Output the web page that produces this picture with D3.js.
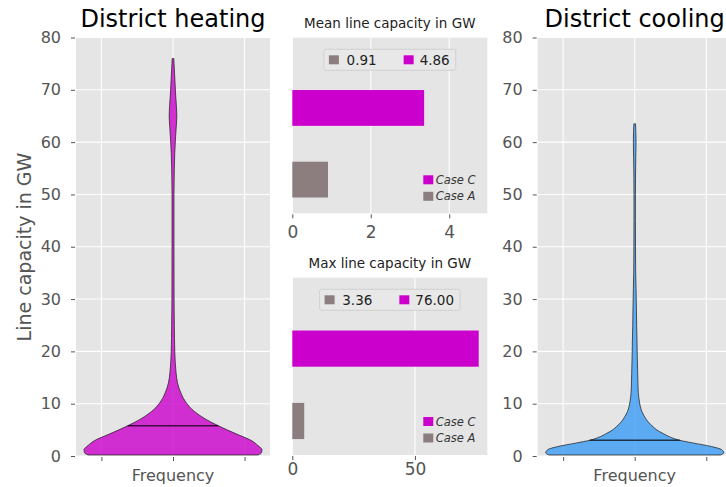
<!DOCTYPE html>
<html>
<head>
<meta charset="utf-8">
<script src="https://cdn.jsdelivr.net/npm/d3@7"></script>
<style>
  html, body { margin: 0; padding: 0; background: #ffffff; }
  svg { display: block; font-family: "DejaVu Sans", sans-serif; }
</style>
</head>
<body>
<svg id="chart" width="726" height="487"></svg>
<script>
// ---- Data ----------------------------------------------------------------
// Line capacity levels (GW) at which the violin density is sampled
const heatingLevels  = [0.2, 0.6, 1.2, 2, 3, 4, 5, 6, 7, 8, 9, 10, 11, 12, 13, 14, 16, 18, 20, 25, 30, 40, 50, 55, 58, 61, 63, 65, 67, 69, 71, 73, 75, 76];
// Relative frequency (peak = 1) at each level, district heating
const heatingDensity = [0.955, 0.994, 1, 0.955, 0.876, 0.742, 0.607, 0.483, 0.371, 0.281, 0.208, 0.157, 0.118, 0.09, 0.067, 0.051, 0.034, 0.025, 0.02, 0.015, 0.012, 0.011, 0.011, 0.015, 0.02, 0.029, 0.037, 0.043, 0.038, 0.03, 0.024, 0.018, 0.012, 0.009];
const heatingMedian = 5.8;

const coolingLevels  = [0.2, 0.6, 1.2, 1.8, 2.5, 3, 3.5, 4.3, 5, 5.6, 6.5, 7.5, 8.5, 9.4, 10.5, 11.3, 13, 15.8, 19, 22, 25, 28.5, 32, 35, 40, 45, 50, 53, 57, 60, 62, 63.5];
const coolingDensity = [0.966, 1, 0.978, 0.865, 0.652, 0.506, 0.416, 0.318, 0.247, 0.206, 0.152, 0.112, 0.081, 0.064, 0.052, 0.045, 0.038, 0.034, 0.029, 0.026, 0.022, 0.019, 0.015, 0.011, 0.009, 0.008, 0.008, 0.009, 0.012, 0.015, 0.013, 0.009];
const coolingMedian = 3.0;

// Bar charts: one bar per case
const cases = ["Case A", "Case C"];
const meanCapacity = [0.91, 3.36];
const maxCapacity  = [4.86, 76.00];
// Summary legends: Case A (mean, max) and Case C (mean, max)
const meanLegendValues = [meanCapacity[0], maxCapacity[0]];
const maxLegendValues  = [meanCapacity[1], maxCapacity[1]];

const violinTicks = [0, 10, 20, 30, 40, 50, 60, 70, 80];
const meanTicks = [0, 2, 4];
const maxTicks = [0, 50];

// ---- Styling -------------------------------------------------------------
const BG = "#e5e5e5", GRID = "#ffffff", TICK = "#555555";
const caseColors = ["#8c7e7e", "#cc00cc"];
const heatingColor = "#cc00cc", coolingColor = "#3a9cf5";

const svg = d3.select("#chart");

// ---- Violin panels -------------------------------------------------------
function violinPanel(box, title, levels, density, median, color) {
  const g = svg.append("g");
  const y = d3.scaleLinear().domain([0, 80]).range([box.y1, box.y0]);
  const x = d3.scaleLinear().domain([-1.355, 1.355]).range([box.x0, box.x1]);
  const halfWidth = 1.243; // body half-width at peak frequency, axis units

  g.append("rect").attr("x", box.x0).attr("y", box.y0)
    .attr("width", box.x1 - box.x0).attr("height", box.y1 - box.y0).attr("fill", BG);

  // gridlines
  g.selectAll("line.hg").data(violinTicks).join("line")
    .attr("x1", box.x0).attr("x2", box.x1)
    .attr("y1", d => y(d)).attr("y2", d => y(d))
    .attr("stroke", GRID).attr("stroke-width", 1.1);
  g.selectAll("line.vg").data([-1, 0, 1]).join("line")
    .attr("x1", d => x(d)).attr("x2", d => x(d))
    .attr("y1", box.y0).attr("y2", box.y1)
    .attr("stroke", GRID).attr("stroke-width", 1.1);

  // y axis
  const yAxis = d3.axisLeft(y).tickValues(violinTicks).tickSize(4).tickPadding(10);
  const ya = g.append("g").attr("transform", `translate(${box.x0 - 1},0)`).call(yAxis);
  ya.select(".domain").remove();
  ya.selectAll("line").attr("stroke", TICK);
  ya.selectAll("text").attr("fill", TICK).attr("font-size", 16).attr("font-family", "DejaVu Sans");

  // x axis (ticks only)
  const xAxis = d3.axisBottom(x).tickValues([-1, 0, 1]).tickSize(4).tickFormat("");
  const xa = g.append("g").attr("transform", `translate(0,${box.y1 + 1})`).call(xAxis);
  xa.select(".domain").remove();
  xa.selectAll("line").attr("stroke", TICK);

  g.append("text").attr("x", x(0)).attr("y", box.y1 + 25)
    .attr("text-anchor", "middle").attr("font-size", 16).attr("fill", TICK)
    .text("Frequency");

  // violin body
  const pts = levels.map((v, i) => ({ v, d: density[i] }));
  const area = d3.area()
    .y(p => y(p.v))
    .x0(p => x(-p.d * halfWidth))
    .x1(p => x(p.d * halfWidth))
    .curve(d3.curveMonotoneY);
  g.append("path").datum(pts).attr("d", area)
    .attr("fill", color).attr("fill-opacity", 0.8)
    .attr("stroke", "#222").attr("stroke-opacity", 0.75).attr("stroke-width", 1);

  // median bar spans the body width at the median
  const dm = d3.scaleLinear().domain(levels).range(density)(median);
  g.append("line")
    .attr("x1", x(-dm * halfWidth)).attr("x2", x(dm * halfWidth))
    .attr("y1", y(median)).attr("y2", y(median))
    .attr("stroke", "#000").attr("stroke-opacity", 0.7).attr("stroke-width", 1.5);

  g.append("text").attr("x", (box.x0 + box.x1) / 2).attr("y", 27)
    .attr("text-anchor", "middle").attr("font-size", 24).attr("fill", "#000")
    .text(title);
}

violinPanel({ x0: 76, x1: 270, y0: 37.5, y1: 456 }, "District heating",
  heatingLevels, heatingDensity, heatingMedian, heatingColor);
violinPanel({ x0: 537.7, x1: 731.7, y0: 37.5, y1: 456 }, "District cooling",
  coolingLevels, coolingDensity, coolingMedian, coolingColor);

// shared y label
svg.append("text")
  .attr("transform", "translate(31,247) rotate(-90)")
  .attr("text-anchor", "middle").attr("font-size", 19).attr("fill", TICK)
  .text("Line capacity in GW");

// ---- Bar panels ----------------------------------------------------------
function barPanel(box, title, values, xMax, ticks, legendValues, labelPad) {
  const g = svg.append("g");
  const x = d3.scaleLinear().domain([0, xMax]).range([box.x0, box.x1]);
  const y = d3.scaleLinear().domain([-0.47, 1.98]).range([box.y1, box.y0]);
  const barH = 0.5;

  g.append("rect").attr("x", box.x0).attr("y", box.y0)
    .attr("width", box.x1 - box.x0).attr("height", box.y1 - box.y0).attr("fill", BG);

  g.selectAll("line.vg").data(ticks).join("line")
    .attr("x1", d => x(d)).attr("x2", d => x(d))
    .attr("y1", box.y0).attr("y2", box.y1)
    .attr("stroke", GRID).attr("stroke-width", 1.1);

  const xAxis = d3.axisBottom(x).tickValues(ticks).tickSize(4).tickPadding(labelPad).tickFormat(d3.format("d"));
  const xa = g.append("g").attr("transform", `translate(0,${box.y1 + 1})`).call(xAxis);
  xa.select(".domain").remove();
  xa.selectAll("line").attr("stroke", TICK);
  xa.selectAll("text").attr("fill", TICK).attr("font-size", 17).attr("font-family", "DejaVu Sans");

  g.selectAll("rect.bar").data(values).join("rect")
    .attr("x", x(0))
    .attr("y", (d, i) => y(i + barH / 2))
    .attr("width", d => x(d) - x(0))
    .attr("height", (d, i) => y(i - barH / 2) - y(i + barH / 2))
    .attr("fill", (d, i) => caseColors[i]);

  g.append("text").attr("x", (box.x0 + box.x1) / 2).attr("y", box.y0 - 10)
    .attr("text-anchor", "middle").attr("font-size", 13.5).attr("fill", "#222")
    .text(title);

  // summary legend, upper center, two columns
  const cx = (box.x0 + box.x1) / 2;
  const lg = g.append("g");
  const frame = lg.append("rect");
  const t1 = lg.append("text").attr("font-size", 13.5).attr("fill", "#222")
    .attr("x", 0).attr("y", 0).text(legendValues[0].toFixed(2));
  const t2 = lg.append("text").attr("font-size", 13.5).attr("fill", "#222")
    .attr("x", 0).attr("y", 0).text(legendValues[1].toFixed(2));
  const w1 = t1.node().getComputedTextLength();
  const w2 = t2.node().getComputedTextLength();
  const boxW = 5 + 17.7 + w1 + 27 + 16 + w2 + 6;
  const bx = cx - boxW / 2, by = box.y0 + 11.6, bh = 21;
  frame.attr("x", bx).attr("y", by).attr("width", boxW).attr("height", bh)
    .attr("rx", 2).attr("fill", "#e8e8e8").attr("stroke", "#cccccc").attr("stroke-width", 0.8);
  const p2x = bx + 5 + 17.7 + w1 + 27;
  lg.append("rect").attr("x", bx + 5).attr("y", by + bh / 2 - 4.5).attr("width", 10).attr("height", 9).attr("fill", caseColors[0]);
  t1.attr("x", bx + 5 + 17.7).attr("y", by + bh / 2 + 4.8);
  lg.append("rect").attr("x", p2x).attr("y", by + bh / 2 - 4.5).attr("width", 10).attr("height", 9).attr("fill", caseColors[1]);
  t2.attr("x", p2x + 16).attr("y", by + bh / 2 + 4.8);

  // case legend, lower right
  const rows = [1, 0];
  rows.forEach((ci, r) => {
    const cy = box.y1 - 33.5 + r * 16.5;
    g.append("rect").attr("x", box.x1 - 64).attr("y", cy - 4.5).attr("width", 10).attr("height", 9).attr("fill", caseColors[ci]);
    g.append("text").attr("x", box.x1 - 51.6).attr("y", cy + 4)
      .attr("font-size", 11.5).attr("font-style", "italic").attr("fill", "#333")
      .text(cases[ci]);
  });
}

barPanel({ x0: 292.3, x1: 487.3, y0: 37.7, y1: 213.3 }, "Mean line capacity in GW",
  meanCapacity, 4.97, meanTicks, meanLegendValues, 8);
barPanel({ x0: 292.3, x1: 487.3, y0: 277.7, y1: 455 }, "Max line capacity in GW",
  maxCapacity, 79.5, maxTicks, maxLegendValues, 3);
</script>
</body>
</html>
